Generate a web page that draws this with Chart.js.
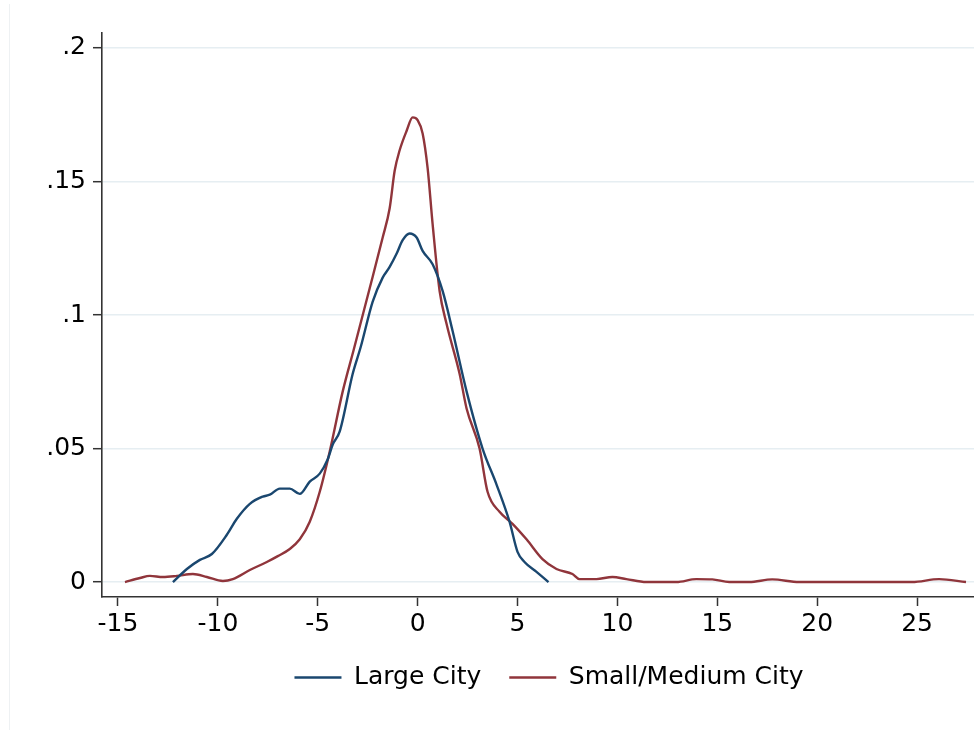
<!DOCTYPE html>
<html>
<head>
<meta charset="utf-8">
<script src="https://cdn.jsdelivr.net/npm/chart.js@4"></script>
<style>
  html, body { margin: 0; padding: 0; background: #fff; }
  #wrap { position: relative; width: 974px; height: 732px; }
  #edge { position: absolute; left: 9px; top: 4px; width: 1px; height: 726px; background: #eef1f3; }
</style>
</head>
<body>
<div id="wrap">
  <canvas id="myChart" width="974" height="732"></canvas>
  <div id="edge"></div>
</div>
<script>
const ctx = document.getElementById('myChart');

// Large City density
const largeX = [-12.25, -11.55, -10.9, -10.3, -9.55, -9.05, -8.4, -7.75, -7.4, -6.9, -6.4, -5.9, -5.4, -4.9, -4.5, -4.25, -3.9, -3.25, -2.85, -2.25, -1.75, -1.4, -1.05, -0.75, -0.4, -0.05, 0.25, 0.75, 1.25, 1.75, 2.45, 3.25, 3.95, 4.6, 5.0, 5.35, 5.95, 6.55];
const largeY = [0, 0.0049, 0.0083, 0.0105, 0.0177, 0.0237, 0.0293, 0.032, 0.0327, 0.035, 0.035, 0.033, 0.0376, 0.0406, 0.046, 0.0515, 0.0564, 0.078, 0.088, 0.105, 0.114, 0.118, 0.123, 0.128, 0.1305, 0.129, 0.124, 0.119, 0.109, 0.094, 0.0714, 0.050, 0.0365, 0.0226, 0.0113, 0.0075, 0.0038, 0];

// Small/Medium City density
const smallX = [-14.65, -13.9, -13.4, -12.75, -12.05, -11.25, -10.55, -9.75, -9.25, -8.4, -7.55, -7.0, -6.4, -5.9, -5.4, -4.9, -4.4, -3.75, -3.2, -2.4, -1.75, -1.4, -1.15, -0.9, -0.55, -0.25, 0, 0.25, 0.5, 0.75, 1.1, 1.45, 2.1, 2.45, 3.1, 3.5, 4.1, 4.75, 5.45, 6.25, 6.95, 7.75, 8.1, 8.95, 9.75, 10.45, 11.45, 12.95, 13.95, 14.75, 15.6, 16.6, 17.75, 19.1, 24.75, 26.1, 27.45];
const smallY = [0, 0.0015, 0.0023, 0.0019, 0.0023, 0.003, 0.0019, 0.0004, 0.0011, 0.0045, 0.0075, 0.0097, 0.0124, 0.016, 0.0226, 0.0338, 0.0489, 0.0714, 0.087, 0.110, 0.129, 0.140, 0.154, 0.1617, 0.169, 0.174, 0.173, 0.168, 0.155, 0.134, 0.109, 0.0966, 0.078, 0.065, 0.050, 0.0338, 0.0263, 0.0218, 0.016, 0.0086, 0.0049, 0.003, 0.0011, 0.0011, 0.0019, 0.0011, 0, 0, 0.0011, 0.001, 0, 0, 0.001, 0, 0, 0.0011, 0];

const xTicks = [-15, -10, -5, 0, 5, 10, 15, 20, 25];
const yTicks = [0, 0.05, 0.1, 0.15, 0.2];
const yTickLabels = ['0', '.05', '.1', '.15', '.2'];

const toPoints = (xs, ys) => xs.map((x, i) => ({ x: x, y: ys[i] }));

Chart.defaults.font.family = '"DejaVu Sans", sans-serif';
Chart.defaults.font.size = 25;
Chart.defaults.color = '#000';

// legend in the original sits centred under the plot area, not the whole canvas
const legendShift = {
  id: 'legendShift',
  afterLayout(chart) {
    const lg = chart.legend;
    if (!lg) return;
    lg.left += 62;
    lg.right += 62;
  }
};

const myChart = new Chart(ctx, {
  type: 'line',
  data: {
    datasets: [{
      label: 'Large City',
      data: toPoints(largeX, largeY),
      borderColor: '#1a476f',
      backgroundColor: '#1a476f',
      borderWidth: 2.4,
      pointRadius: 0,
      cubicInterpolationMode: 'monotone',
      fill: false
    }, {
      label: 'Small/Medium City',
      data: toPoints(smallX, smallY),
      borderColor: '#90353b',
      backgroundColor: '#90353b',
      borderWidth: 2.4,
      pointRadius: 0,
      cubicInterpolationMode: 'monotone',
      fill: false
    }]
  },
  plugins: [legendShift],
  options: {
    responsive: false,
    animation: false,
    layout: { padding: { top: 33, right: 0, left: 0, bottom: 32 } },
    plugins: {
      tooltip: { enabled: false },
      legend: {
        position: 'bottom',
        labels: {
          usePointStyle: true,
          pointStyle: 'line',
          pointStyleWidth: 47,
          padding: 28,
          font: { size: 25 },
          color: '#000'
        }
      }
    },
    scales: {
      x: {
        type: 'linear',
        min: -15.8,
        max: 27.85,
        afterBuildTicks: (scale) => { scale.ticks = xTicks.map(v => ({ value: v })); },
        afterFit: (scale) => { scale.height = 40; },
        grid: { drawOnChartArea: false, drawTicks: true, tickLength: 9, tickColor: '#333', tickWidth: 1.5 },
        border: { color: '#333', width: 1.6 },
        ticks: { padding: 3, maxRotation: 0, autoSkip: false, callback: (v) => String(v) }
      },
      y: {
        min: -0.0056,
        max: 0.2056,
        afterBuildTicks: (scale) => { scale.ticks = yTicks.map(v => ({ value: v })); },
        afterFit: (scale) => { scale.width = 102; },
        grid: { color: '#e6eef2', lineWidth: 1.4, tickLength: 9, tickColor: '#333', tickWidth: 1.5 },
        border: { color: '#333', width: 1.6 },
        ticks: {
          padding: 7,
          autoSkip: false,
          callback: (v) => {
            const i = yTicks.findIndex(t => Math.abs(t - v) < 1e-9);
            return i >= 0 ? yTickLabels[i] : '';
          }
        }
      }
    }
  }
});
</script>
</body>
</html>
